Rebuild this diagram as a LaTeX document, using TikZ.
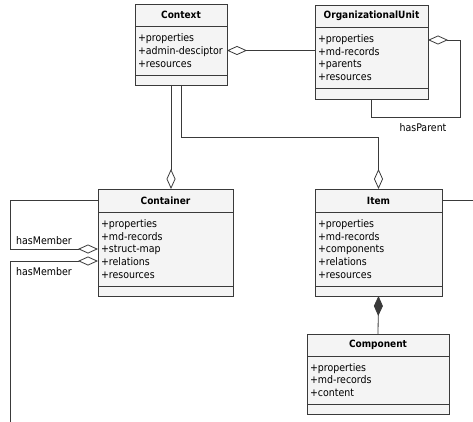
\documentclass[tikz,border=0pt]{standalone}
\usepackage{fontspec}
\setmainfont{DejaVu Sans Condensed}
\usetikzlibrary{positioning,arrows.meta}
\definecolor{boxfill}{HTML}{F4F4F4}
\definecolor{umlline}{HTML}{3A3A3A}
\begin{document}
\begin{tikzpicture}[x=1pt,y=1pt,
        every node/.style={inner sep=0pt, outer sep=0pt},
        cls/.style={draw=umlline, fill=boxfill, line width=0.8pt},
        hdr/.style={cls, font=\bfseries\fontsize{10}{12}\selectfont, anchor=north west},
        attrs/.style={cls, align=left, inner xsep=3pt, font=\fontsize{10.5}{12.7}\selectfont},
        ops/.style={cls},
        link/.style={draw=umlline, line width=0.8pt},
        agg/.style={link, -{Diamond[open, length=20pt, width=9pt]}},
        aggb/.style={link, {Diamond[open, length=20pt, width=9pt]}-},
        comp/.style={link, {Diamond[length=20pt, width=9pt]}-},
        lbl/.style={font=\fontsize{10.5}{12}\selectfont}]
        \useasboundingbox (0,0) rectangle (473,-422);
        % classes
        \node[hdr, minimum width=92, minimum height=22] (ctx) at (135,-4) {Context};
        \node[attrs, text width=86, minimum height=49, below=0pt of ctx] (ctxA) {+properties\\+admin-desciptor\\+resources};
        \node[ops, minimum width=92, minimum height=10, below=0pt of ctxA] (ctxO) {};
        \node[hdr, minimum width=113, minimum height=22] (ou) at (315,-5) {OrganizationalUnit};
        \node[attrs, text width=107, minimum height=61, below=0pt of ou] (ouA) {+properties\\+md-records\\+parents\\+resources};
        \node[ops, minimum width=113, minimum height=11, below=0pt of ouA] (ouO) {};
        \node[hdr, minimum width=135, minimum height=23] (ctn) at (98,-189) {Container};
        \node[attrs, text width=129, minimum height=74, below=0pt of ctn] (ctnA) {+properties\\+md-records\\+struct-map\\+relations\\+resources};
        \node[ops, minimum width=135, minimum height=10, below=0pt of ctnA] (ctnO) {};
        \node[hdr, minimum width=127, minimum height=23] (it) at (315,-189) {Item};
        \node[attrs, text width=121, minimum height=74, below=0pt of it] (itA) {+properties\\+md-records\\+components\\+relations\\+resources};
        \node[ops, minimum width=127, minimum height=10, below=0pt of itA] (itO) {};
        \node[hdr, minimum width=142, minimum height=22] (cmp) at (307,-334) {Component};
        \node[attrs, text width=136, minimum height=48, below=0pt of cmp] (cmpA) {+properties\\+md-records\\+content};
        \node[ops, minimum width=142, minimum height=10, below=0pt of cmpA] (cmpO) {};
        % bend points
        \coordinate (hp) at (460,-117);
        \coordinate (jn) at (181,-137);
        \coordinate (m1) at (10,-249);
        \coordinate (m2) at (10,-422);
        \coordinate (offR) at (473,-200.5);
        % associations
        \draw[aggb] (ctxA.east) -- (ctxA.east -| ouA.west);
        \draw[aggb] ([yshift=-13pt]ouA.north east) -| (hp) -| (ouO.south);
        \draw[agg] ([xshift=-10pt]ctxO.south) -- ([xshift=-10pt]ctxO.south |- ctn.north);
        \draw[agg] (ctxO.south) -- (jn) -| (it.north);
        \draw[link] (it.east) -- (offR);
        \draw[comp] (itO.south) -- (cmp.north);
        \draw[agg] (ctn.west) -| (m1) -- (ctnA.west);
        \draw[aggb] ([yshift=-12pt]ctnA.west) -| (m2);
        % labels
        \node[lbl] (hpL) at (423,-128) {hasParent};
        \node[lbl] (hm1) at (44,-241) {hasMember};
        \node[lbl] (hm2) at (44,-272) {hasMember};
\end{tikzpicture}
\end{document}
